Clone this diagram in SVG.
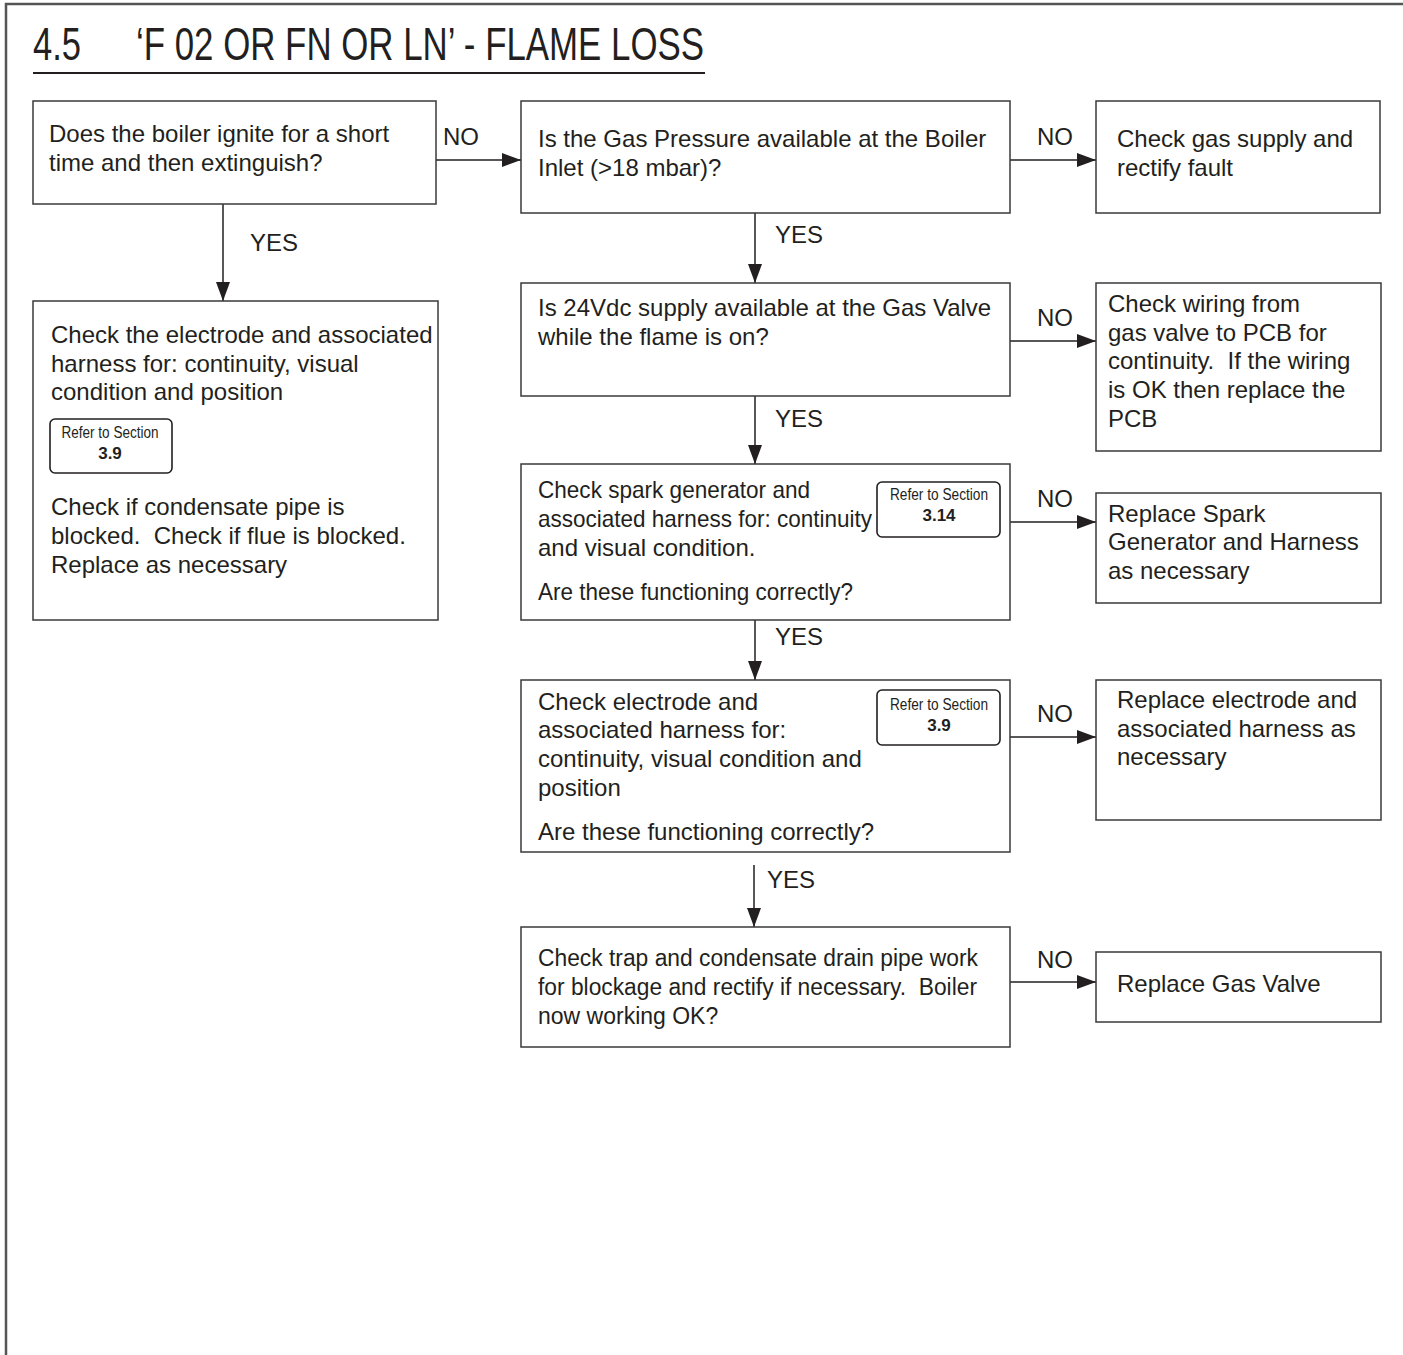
<svg xmlns="http://www.w3.org/2000/svg" width="1403" height="1355" viewBox="0 0 1403 1355">
<style>
.box{fill:#fff;stroke:#3a3a3a;stroke-width:1.5}
.t{font-family:"Liberation Sans",Arial,sans-serif;font-size:24px;fill:#231f20;white-space:pre}
.k{font-family:"Liberation Sans",Arial,sans-serif;font-size:23px;fill:#231f20;white-space:pre}
.lbl{font-family:"Liberation Sans",Arial,sans-serif;font-size:24px;fill:#231f20}
.ref{fill:#fff;stroke:#231f20;stroke-width:1.6}
.rt{font-family:"Liberation Sans Narrow","Liberation Sans",Arial,sans-serif;font-size:16px;fill:#231f20}
.rn{font-family:"Liberation Sans",Arial,sans-serif;font-size:17px;font-weight:bold;fill:#231f20}
.con{stroke:#231f20;stroke-width:1.5;fill:none;marker-end:url(#ah)}
</style>
<defs>
<marker id="ah" markerWidth="19" markerHeight="14" refX="19" refY="7" orient="auto" markerUnits="userSpaceOnUse">
<path d="M0,0 L19,7 L0,14 Z" fill="#231f20"/>
</marker>
</defs>
<rect width="1403" height="1355" fill="#fff"/>
<g id="frame">
<path d="M6,1355 V4 H1403" fill="none" stroke="#555" stroke-width="2.5"/>
</g>
<g id="title">
<text x="33" y="60" font-family="'Liberation Sans Narrow','Liberation Sans',Arial,sans-serif" font-size="46" fill="#231f20" textLength="48" lengthAdjust="spacingAndGlyphs">4.5</text>
<text x="136" y="60" font-family="'Liberation Sans Narrow','Liberation Sans',Arial,sans-serif" font-size="46" fill="#231f20" textLength="568" lengthAdjust="spacingAndGlyphs">‘F 02 OR FN OR LN’ - FLAME LOSS</text>
<line x1="33" y1="73" x2="705" y2="73" stroke="#231f20" stroke-width="2"/>
</g>
<g id="connectors">
<line class="con" x1="436" y1="160" x2="521" y2="160"/>
<text class="lbl" x="443" y="145">NO</text>
<line class="con" x1="1010" y1="160" x2="1096" y2="160"/>
<text class="lbl" x="1037" y="145">NO</text>
<line class="con" x1="223" y1="204" x2="223" y2="301"/>
<text class="lbl" x="250" y="251">YES</text>
<line class="con" x1="755" y1="213" x2="755" y2="283"/>
<text class="lbl" x="775" y="243">YES</text>
<line class="con" x1="1010" y1="341" x2="1096" y2="341"/>
<text class="lbl" x="1037" y="326">NO</text>
<line class="con" x1="755" y1="396" x2="755" y2="464"/>
<text class="lbl" x="775" y="427">YES</text>
<line class="con" x1="1010" y1="522" x2="1096" y2="522"/>
<text class="lbl" x="1037" y="507">NO</text>
<line class="con" x1="755" y1="620" x2="755" y2="680"/>
<text class="lbl" x="775" y="645">YES</text>
<line class="con" x1="1010" y1="737" x2="1096" y2="737"/>
<text class="lbl" x="1037" y="722">NO</text>
<line class="con" x1="754" y1="865" x2="754" y2="927"/>
<text class="lbl" x="767" y="888">YES</text>
<line class="con" x1="1010" y1="982" x2="1096" y2="982"/>
<text class="lbl" x="1037" y="968">NO</text>
</g>
<g id="nodeA">
<rect class="box" x="33" y="101" width="403" height="103"/>
<text class="t" x="49" y="142">Does the boiler ignite for a short</text>
<text class="t" x="49" y="171">time and then extinguish?</text>
</g>
<g id="nodeB">
<rect class="box" x="521" y="101" width="489" height="112"/>
<text class="t" x="538" y="147">Is the Gas Pressure available at the Boiler</text>
<text class="t" x="538" y="176">Inlet (&gt;18 mbar)?</text>
</g>
<g id="nodeC">
<rect class="box" x="1096" y="101" width="284" height="112"/>
<text class="t" x="1117" y="147">Check gas supply and</text>
<text class="t" x="1117" y="176">rectify fault</text>
</g>
<g id="nodeD">
<rect class="box" x="33" y="301" width="405" height="319"/>
<text class="t" x="51" y="343">Check the electrode and associated</text>
<text class="t" x="51" y="372">harness for: continuity, visual</text>
<text class="t" x="51" y="400">condition and position</text>
<rect class="ref" x="50" y="419" width="122" height="54" rx="5"/>
<text class="rt" x="110" y="438" text-anchor="middle" textLength="97" lengthAdjust="spacingAndGlyphs">Refer to Section</text>
<text class="rn" x="110" y="459" text-anchor="middle">3.9</text>
<text class="t" x="51" y="515">Check if condensate pipe is</text>
<text class="t" x="51" y="544">blocked.  Check if flue is blocked.</text>
<text class="t" x="51" y="573">Replace as necessary</text>
</g>
<g id="nodeE">
<rect class="box" x="521" y="283" width="489" height="113"/>
<text class="t" x="538" y="316">Is 24Vdc supply available at the Gas Valve</text>
<text class="t" x="538" y="345">while the flame is on?</text>
</g>
<g id="nodeF">
<rect class="box" x="1096" y="283" width="285" height="168"/>
<text class="t" x="1108" y="312">Check wiring from</text>
<text class="t" x="1108" y="341">gas valve to PCB for</text>
<text class="t" x="1108" y="369">continuity.  If the wiring</text>
<text class="t" x="1108" y="398">is OK then replace the</text>
<text class="t" x="1108" y="427">PCB</text>
</g>
<g id="nodeG">
<rect class="box" x="521" y="464" width="489" height="156"/>
<text class="t" x="538" y="498" textLength="272" lengthAdjust="spacingAndGlyphs">Check spark generator and</text>
<text class="t" x="538" y="527" textLength="334" lengthAdjust="spacingAndGlyphs">associated harness for: continuity</text>
<text class="t" x="538" y="556">and visual condition.</text>
<text class="t" x="538" y="600" textLength="315" lengthAdjust="spacingAndGlyphs">Are these functioning correctly?</text>
<rect class="ref" x="877" y="482" width="123" height="55" rx="5"/>
<text class="rt" x="939" y="500" text-anchor="middle" textLength="98" lengthAdjust="spacingAndGlyphs">Refer to Section</text>
<text class="rn" x="939" y="521" text-anchor="middle">3.14</text>
</g>
<g id="nodeH">
<rect class="box" x="1096" y="493" width="285" height="110"/>
<text class="t" x="1108" y="522">Replace Spark</text>
<text class="t" x="1108" y="550">Generator and Harness</text>
<text class="t" x="1108" y="579">as necessary</text>
</g>
<g id="nodeI">
<rect class="box" x="521" y="680" width="489" height="172"/>
<text class="t" x="538" y="710">Check electrode and</text>
<text class="t" x="538" y="738">associated harness for:</text>
<text class="t" x="538" y="767">continuity, visual condition and</text>
<text class="t" x="538" y="796">position</text>
<text class="t" x="538" y="840">Are these functioning correctly?</text>
<rect class="ref" x="877" y="690" width="123" height="55" rx="5"/>
<text class="rt" x="939" y="710" text-anchor="middle" textLength="98" lengthAdjust="spacingAndGlyphs">Refer to Section</text>
<text class="rn" x="939" y="731" text-anchor="middle">3.9</text>
</g>
<g id="nodeJ">
<rect class="box" x="1096" y="680" width="285" height="140"/>
<text class="t" x="1117" y="708">Replace electrode and</text>
<text class="t" x="1117" y="737">associated harness as</text>
<text class="t" x="1117" y="765">necessary</text>
</g>
<g id="nodeK">
<rect class="box" x="521" y="927" width="489" height="120"/>
<text class="k" x="538" y="966" textLength="440" lengthAdjust="spacingAndGlyphs">Check trap and condensate drain pipe work</text>
<text class="k" x="538" y="995" textLength="439" lengthAdjust="spacingAndGlyphs">for blockage and rectify if necessary.  Boiler</text>
<text class="k" x="538" y="1024">now working OK?</text>
</g>
<g id="nodeL">
<rect class="box" x="1096" y="952" width="285" height="70"/>
<text class="t" x="1117" y="992">Replace Gas Valve</text>
</g>
</svg>
